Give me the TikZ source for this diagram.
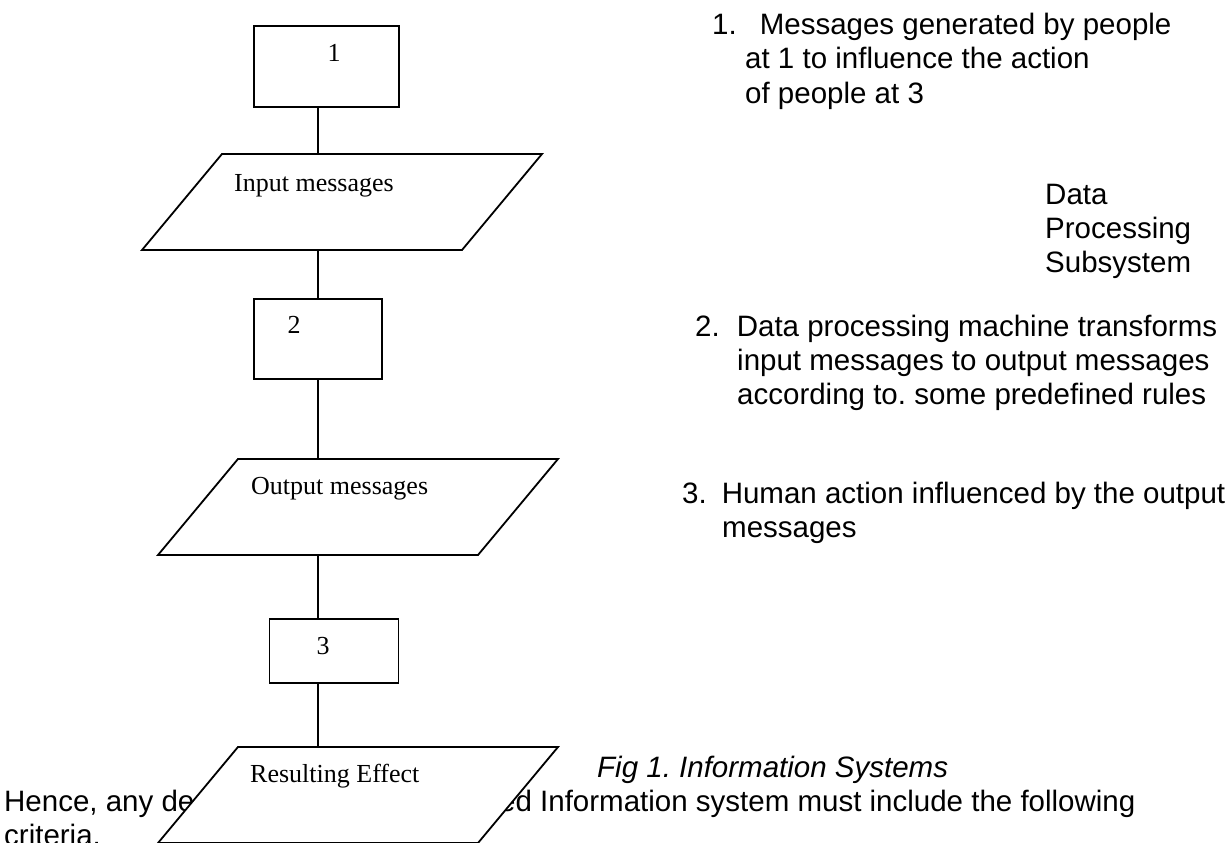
\documentclass[tikz,border=0pt]{standalone}
\usepackage{fontspec}
\setmainfont{Liberation Serif}
\newfontfamily\arialfont{Liberation Sans}
\usepackage{tikz}
\frenchspacing
\tikzset{
  box/.style={rectangle, draw, line width=1.8pt, inner sep=0pt, outer sep=0pt},
  io/.style={rectangle, xslant=0.833, transform shape, draw, fill=white, line width=1.8pt,
             minimum width=320pt, minimum height=96pt, inner sep=0pt, outer sep=0pt},
  num/.style={font=\fontsize{26}{30}\selectfont, inner sep=0pt, anchor=base},
  iotext/.style={font=\fontsize{26}{30}\selectfont, inner sep=0pt, anchor=base west},
  note/.style={font=\arialfont\fontsize{29.5}{34}\selectfont, inner sep=0pt, anchor=base west},
  link/.style={line width=1.8pt},
}

\begin{document}
\begin{tikzpicture}[x=1pt, y=-1pt]
  \useasboundingbox (0,0) rectangle (1229,843);
  \coordinate (spine) at (318,0);

  % ── Flow: people at 1 -> machine 2 -> people at 3 ─────────────────────────
  \node[box, minimum width=145pt, minimum height=81pt] at (326.5,66.5) (b1) {};
  \node[num] at (334,62) (t1) {1};
  \node[io] at (342,202) (inmsg) {};
  \node[iotext] at (234,191) (tin) {Input messages};

  \node[box, minimum width=128pt, minimum height=80pt] at (318,339) (b2) {};
  \node[num] at (294,333) (t2) {2};
  \node[io] at (358,507) (outmsg) {};
  \node[iotext] at (251,494) (tout) {Output messages};

  \node[box, minimum width=129pt, minimum height=64pt] at (334,651) (b3) {};
  \node[num] at (323,654) (t3) {3};

  % ── Notes on the right ─────────────────────────────────────────────────────
  \node[note] at (712,35)  (n1a) {1.\hspace{23pt}Messages generated by people};
  \node[note] at (745,69)  (n1b) {at 1 to influence the action};
  \node[note] at (745,103) (n1c) {of people at 3};

  \node[note] at (1045,204) (dp1) {Data};
  \node[note] at (1045,238) (dp2) {Processing};
  \node[note] at (1045,272) (dp3) {Subsystem};

  \node[note] at (695,336) (n2a) {2.\hspace{17pt}Data processing machine transforms};
  \node[note] at (737,370) (n2b) {input messages to output messages};
  \node[note] at (737,404) (n2c) {according to. some predefined rules};

  \node[note] at (682,503) (n3a) {3.\hspace{15pt}Human action influenced by the output};
  \node[note] at (722,537) (n3b) {messages};

  % ── Caption and running text (partly under the last shape) ─────────────────
  \node[note, font=\arialfont\itshape\fontsize{29.5}{34}\selectfont] at (597,777) (fig) {Fig 1. Information Systems};
  \node[note] at (4,811)   (hence)  {Hence, any de};
  \node[note] at (499,811) (hence2) {ed Information system must include the following};
  \node[note] at (4,845)   (crit)   {criteria.};

  \node[io] at (358,795) (effect) {};
  \node[iotext] at (250,782) (teff) {Resulting Effect};

  % ── Connectors ─────────────────────────────────────────────────────────────
  \draw[link] (b1.south -| spine) -- (inmsg.north -| spine);
  \draw[link] (inmsg.south -| spine) -- (b2.north -| spine);
  \draw[link] (b2.south -| spine) -- (outmsg.north -| spine);
  \draw[link] (outmsg.south -| spine) -- (b3.north -| spine);
  \draw[link] (b3.south -| spine) -- (effect.north -| spine);
\end{tikzpicture}
\end{document}
